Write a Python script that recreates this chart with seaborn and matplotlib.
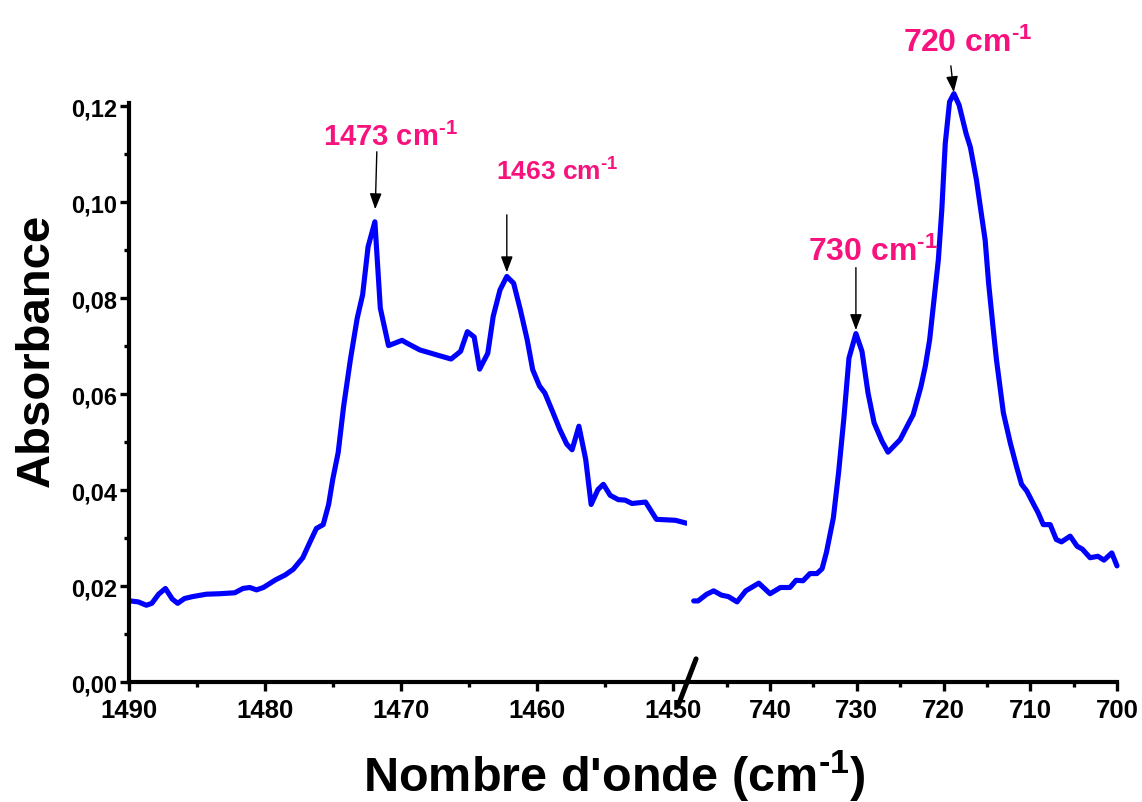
import numpy as np
import pandas as pd
import matplotlib
matplotlib.use("Agg")
import matplotlib.pyplot as plt
from matplotlib.ticker import FixedLocator, FuncFormatter
import seaborn as sns

# FTIR absorbance, CH2 bending region (left) and CH2 rocking region (right)
left_wn = [1489.9, 1489.3, 1488.7, 1488.3, 1487.8, 1487.3, 1486.8, 1486.4, 1485.9, 1485.3,
           1484.3, 1483.3, 1482.2, 1481.6, 1481.1, 1480.6, 1480.1, 1479.2, 1478.5, 1477.9,
           1477.2, 1476.7, 1476.2, 1475.7, 1475.3, 1475.0, 1474.6, 1474.2, 1473.7, 1473.2,
           1472.8, 1472.4, 1471.9, 1471.5, 1470.9, 1469.9, 1469.6, 1468.6, 1467.4, 1466.3,
           1465.6, 1465.1, 1464.6, 1464.2, 1463.6, 1463.2, 1462.7, 1462.2, 1461.7, 1461.2,
           1460.7, 1460.3, 1459.8, 1459.4, 1458.8, 1458.3, 1457.8, 1457.4, 1456.9, 1456.4,
           1456.0, 1455.5, 1455.1, 1454.6, 1454.0, 1453.5, 1453.0, 1452.0, 1451.2, 1449.8,
           1449.0]
left_abs = [0.0169, 0.0167, 0.0160, 0.0164, 0.0183, 0.0195, 0.0173, 0.0164, 0.0174, 0.0178,
            0.0183, 0.0184, 0.0186, 0.0195, 0.0197, 0.0192, 0.0197, 0.0213, 0.0223, 0.0235,
            0.0259, 0.0290, 0.0320, 0.0328, 0.0370, 0.0422, 0.0478, 0.0574, 0.0672, 0.0758,
            0.0807, 0.0907, 0.0959, 0.0779, 0.0701, 0.0712, 0.0707, 0.0692, 0.0682, 0.0673,
            0.0689, 0.0730, 0.0719, 0.0652, 0.0685, 0.0762, 0.0817, 0.0845, 0.0831, 0.0775,
            0.0713, 0.0651, 0.0617, 0.0602, 0.0561, 0.0526, 0.0496, 0.0484, 0.0533, 0.0464,
            0.0370, 0.0401, 0.0412, 0.0389, 0.0380, 0.0379, 0.0372, 0.0375, 0.0339, 0.0337,
            0.0331]

right_wn = [748.8, 748.3, 747.3, 746.5, 745.6, 744.8, 743.8, 742.8, 741.3, 740.0,
            738.8, 737.7, 737.0, 736.2, 735.4, 734.6, 734.0, 733.5, 732.7, 732.1,
            731.5, 730.9, 730.1, 729.4, 728.7, 728.0, 727.1, 726.4, 725.0, 724.2,
            723.5, 722.6, 722.1, 721.6, 721.1, 720.6, 720.2, 719.8, 719.3, 718.8,
            718.2, 717.4, 716.9, 716.2, 715.7, 715.2, 714.8, 714.3, 713.9, 713.1,
            712.3, 711.6, 711.0, 710.4, 709.6, 709.1, 708.5, 707.7, 707.0, 706.4,
            705.4, 704.6, 704.0, 703.1, 702.2, 701.5, 700.6, 700.0]
right_abs = [0.0169, 0.0169, 0.0183, 0.0190, 0.0181, 0.0178, 0.0167, 0.0190, 0.0206, 0.0184,
             0.0197, 0.0197, 0.0212, 0.0211, 0.0226, 0.0226, 0.0236, 0.0270, 0.0342, 0.0436,
             0.0547, 0.0675, 0.0726, 0.0689, 0.0602, 0.0540, 0.0502, 0.0479, 0.0505, 0.0533,
             0.0557, 0.0616, 0.0658, 0.0713, 0.0796, 0.0879, 0.0983, 0.1122, 0.1209, 0.1226,
             0.1202, 0.1143, 0.1114, 0.1046, 0.0983, 0.0921, 0.0831, 0.0741, 0.0672, 0.0561,
             0.0498, 0.0450, 0.0412, 0.0398, 0.0370, 0.0353, 0.0328, 0.0328, 0.0297, 0.0292,
             0.0304, 0.0283, 0.0277, 0.0259, 0.0262, 0.0254, 0.0269, 0.0242]

left_major = [1490, 1480, 1470, 1460, 1450]
left_minor = [1485, 1475, 1465, 1455]
right_major = [740, 730, 720, 710, 700]
right_minor = [745, 735, 725, 715, 705]
y_major = [0.00, 0.02, 0.04, 0.06, 0.08, 0.10, 0.12]
y_minor = [0.01, 0.03, 0.05, 0.07, 0.09, 0.11]

peak_labels = ["1473", "1463", "730", "720"]

sns.set_theme(style="ticks")
plt.rcParams.update({
    "font.family": ["Liberation Sans", "DejaVu Sans"],
    "font.weight": "bold",
    "mathtext.fontset": "custom",
    "mathtext.rm": "Liberation Sans:bold",
    "mathtext.it": "Liberation Sans:bold",
    "mathtext.bf": "Liberation Sans:bold",
    "mathtext.default": "regular",
    "axes.linewidth": 3.0,
    "axes.edgecolor": "black",
    "xtick.color": "black",
    "ytick.color": "black",
})

BLUE = "#0000FF"
PINK = "#F7127E"

fig = plt.figure(figsize=(11.42, 8.03), dpi=100)
ax_l = fig.add_axes([0.1127, 0.1494, 0.4889, 0.7214])
ax_r = fig.add_axes([0.6016, 0.1494, 0.3765, 0.7214])

df_l = pd.DataFrame({"wn": left_wn, "A": left_abs})
df_r = pd.DataFrame({"wn": right_wn, "A": right_abs})
sns.lineplot(data=df_l, x="wn", y="A", ax=ax_l, color=BLUE, linewidth=3.7,
             estimator=None, sort=False, legend=False)
sns.lineplot(data=df_r, x="wn", y="A", ax=ax_r, color=BLUE, linewidth=3.7,
             estimator=None, sort=False, legend=False)
for ax in (ax_l, ax_r):
    for ln in ax.lines:
        ln.set_clip_on(False)
    ax.set_xlabel("")
    ax.set_ylabel("")
    ax.set_ylim(0, 0.1207)
    ax.spines["top"].set_visible(False)
    ax.spines["right"].set_visible(False)
    ax.tick_params(axis="both", which="major", direction="out", length=6.5, width=2.4)
    ax.tick_params(axis="both", which="minor", direction="out", length=3.5, width=2.4)
    ax.tick_params(axis="x", which="major", pad=5, labelsize=18.5)
    ax.tick_params(axis="y", which="major", pad=2, labelsize=17)

ax_l.set_xlim(1490, 1448.95)
ax_r.set_xlim(749.57, 700)

ax_l.xaxis.set_major_locator(FixedLocator(left_major))
ax_l.xaxis.set_minor_locator(FixedLocator(left_minor))
ax_r.xaxis.set_major_locator(FixedLocator(right_major))
ax_r.xaxis.set_minor_locator(FixedLocator(right_minor))
for ax in (ax_l, ax_r):
    ax.xaxis.set_major_formatter(FuncFormatter(lambda v, p: f"{v:.0f}"))

ax_l.yaxis.set_major_locator(FixedLocator(y_major))
ax_l.yaxis.set_minor_locator(FixedLocator(y_minor))
ax_l.yaxis.set_major_formatter(FuncFormatter(lambda v, p: f"{v:.2f}".replace(".", ",")))

ax_r.spines["left"].set_visible(False)
ax_r.tick_params(axis="y", which="both", left=False, labelleft=False)

# axis break mark
ax_r.plot([-0.021, 0.021], [-0.041, 0.040], transform=ax_r.transAxes, color="black",
          lw=3.6, clip_on=False, solid_capstyle="round")

# peak annotations
lw_arr = np.array(left_wn)
la_arr = np.array(left_abs)
rw_arr = np.array(right_wn)
ra_arr = np.array(right_abs)
i1 = int(np.argmax(la_arr))
m2 = lw_arr < 1466
i2 = int(np.argmax(np.where(m2, la_arr, -1)))
m3 = rw_arr > 725
i3 = int(np.argmax(np.where(m3, ra_arr, -1)))
i4 = int(np.argmax(ra_arr))

peaks = [
    (ax_l, lw_arr[i1], la_arr[i1], (1.4, 50.4), 9.0, (11.5, 55.2), 21),
    (ax_l, lw_arr[i2], la_arr[i2], (0.0, 44.4), 3.0, (35.9, 69.6), 19),
    (ax_r, rw_arr[i3], ra_arr[i3], (0.0, 47.5), 2.5, (12.6, 53.3), 23),
    (ax_r, rw_arr[i4], ra_arr[i4], (-2.2, 20.0), 1.0, (9.7, 30.7), 23),
]
for (ax, wn, a, tail, gap, toff, fs), lab in zip(peaks, peak_labels):
    ax.annotate("", xy=(wn, a), xycoords="data", xytext=tail, textcoords="offset points",
                arrowprops=dict(arrowstyle="-|>,head_length=0.8,head_width=0.3",
                                color="black", lw=1.0, shrinkA=0, shrinkB=gap),
                annotation_clip=False)
    ax.annotate(lab + r" cm$^{\text{-1}}$", xy=(wn, a), xycoords="data", xytext=toff,
                textcoords="offset points", ha="center", va="baseline", color=PINK,
                fontsize=fs, fontweight="bold", annotation_clip=False)

fig.text(37 / 1142, 1 - 350 / 803, "Absorbance", rotation=90, ha="center", va="center",
         fontsize=34, fontweight="bold", color="black")
fig.text(614 / 1142, 11 / 803, r"Nombre d'onde (cm$^{\text{-1}}$)", ha="center",
         va="baseline", fontsize=35, fontweight="bold", color="black")

fig.savefig("out.png", dpi=100, facecolor="white")
